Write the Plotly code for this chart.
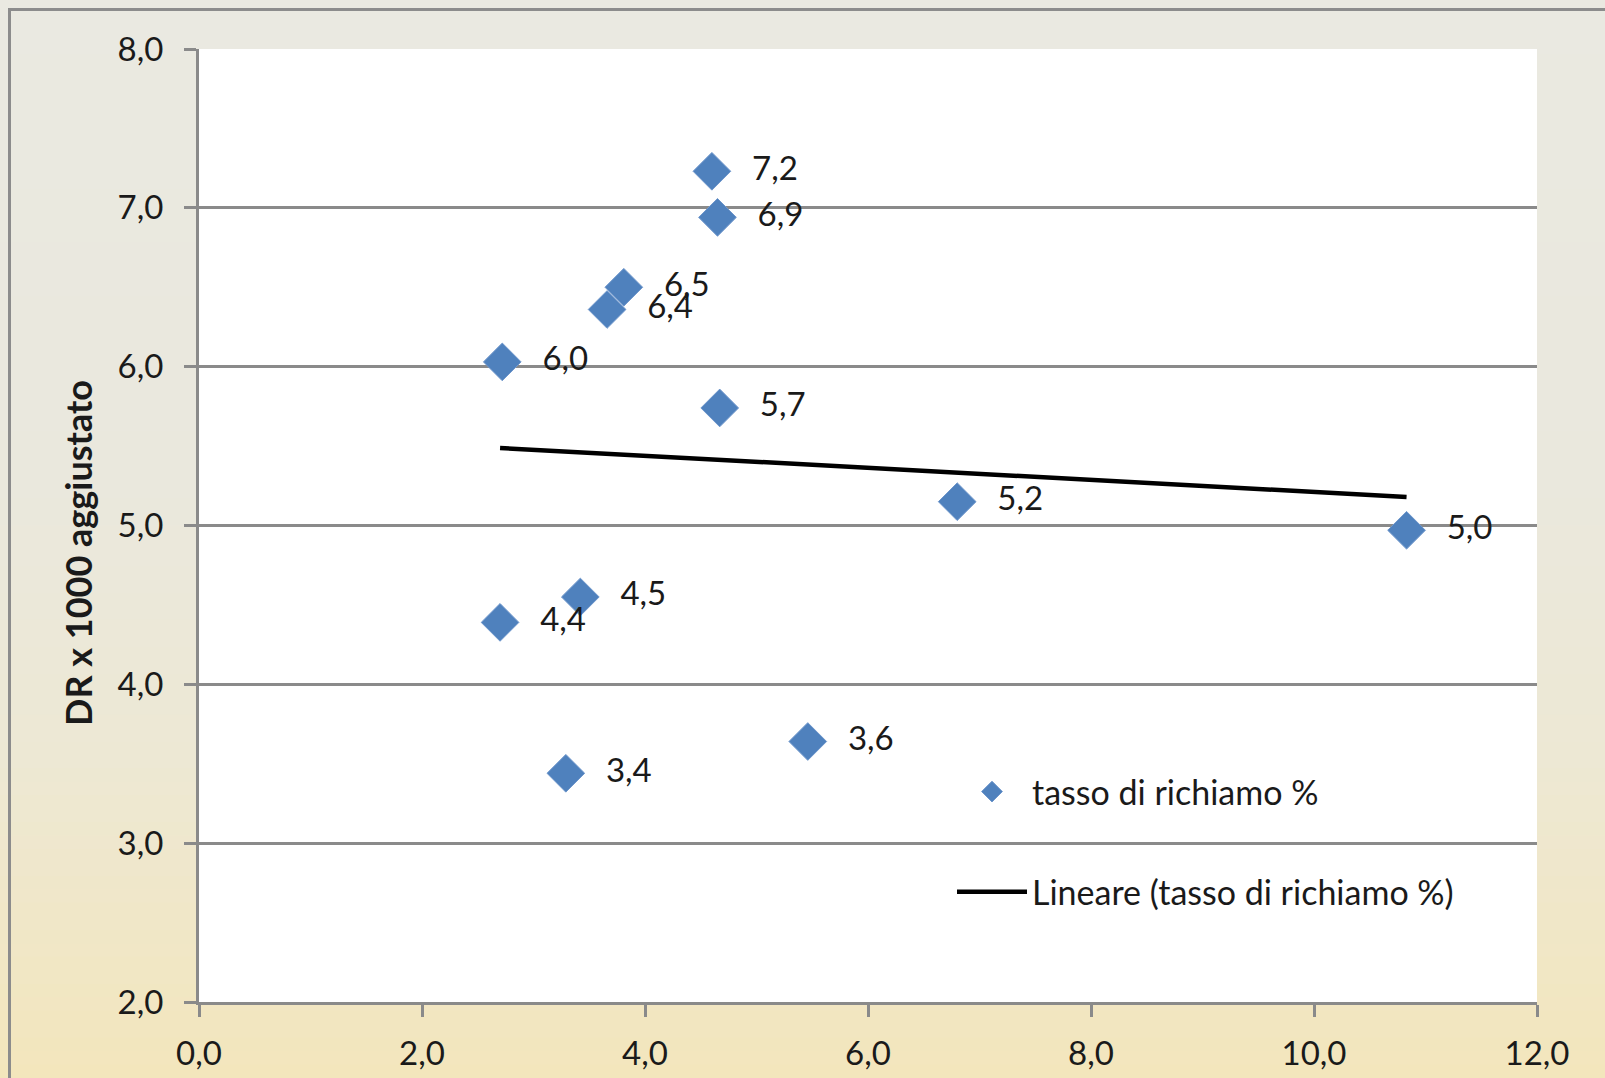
import numpy as np
import plotly.graph_objects as go

# Recall rate (%) vs adjusted detection rate (per 1000)
tasso_richiamo = [4.60, 4.65, 3.81, 3.66, 2.72, 4.67, 6.80, 10.83, 3.42, 2.70, 5.46, 3.29]
dr_aggiustato = [7.23, 6.94, 6.50, 6.36, 6.03, 5.74, 5.15, 4.97, 4.55, 4.39, 3.64, 3.44]

x_ticks = [0, 2, 4, 6, 8, 10, 12]
y_ticks = [2, 3, 4, 5, 6, 7, 8]

series_name = "tasso di richiamo %"
trend_name = "Lineare (tasso di richiamo %)"
y_title = "DR x 1000 aggiustato"

W, H = 1605, 1078
M_L, M_R, M_T, M_B = 199, 68, 49, 76
PW, PH = W - M_L - M_R, H - M_T - M_B


def px_x(p):
    return (p - M_L) / PW


def px_y(p):
    return (H - M_B - p) / PH


FONT = "Lato"
GRAY = "#8a8a8a"

# least-squares trend line over the data range
slope, intercept = np.polyfit(tasso_richiamo, dr_aggiustato, 1)
x_fit = np.array([min(tasso_richiamo), max(tasso_richiamo)])
y_fit = slope * x_fit + intercept

fig = go.Figure()

fig.add_trace(go.Scatter(
    x=tasso_richiamo, y=dr_aggiustato,
    mode="markers+text",
    name=series_name,
    legendgroup="a",
    marker=dict(symbol="diamond", size=29, color="#4f81bd",
                line=dict(width=1, color="#6f97cc")),
    texttemplate="\u00a0\u00a0\u2009%{y:.1f}",
    textposition="middle right",
    textfont=dict(family=FONT, size=33, color="#1a1a1a"),
    cliponaxis=False,
))

fig.add_trace(go.Scatter(
    x=x_fit, y=y_fit,
    mode="lines",
    name=trend_name,
    legendgroup="b",
    line=dict(color="black", width=4.5),
))

# background gradient (grey-beige at top to warm yellow at bottom)
stops = [(0.0, (234, 233, 225)), (0.45, (234, 232, 221)),
         (0.7, (237, 232, 212)), (1.0, (243, 230, 188))]
n_bands = 80
shapes = []
for i in range(n_bands):
    t = (i + 0.5) / n_bands
    for (t0, c0), (t1, c1) in zip(stops[:-1], stops[1:]):
        if t0 <= t <= t1:
            f = (t - t0) / (t1 - t0)
            c = tuple(int(round(a + (b - a) * f)) for a, b in zip(c0, c1))
            break
    top = H * i / n_bands
    bot = H * (i + 1) / n_bands + 1
    shapes.append(dict(type="rect", xref="paper", yref="paper", layer="below",
                       x0=px_x(0), x1=px_x(W), y0=px_y(bot), y1=px_y(top),
                       fillcolor="rgb(%d,%d,%d)" % c, line=dict(width=0)))

# white plotting area
shapes.append(dict(type="rect", xref="x domain", yref="y domain", layer="below",
                   x0=0, x1=1, y0=0, y1=1, fillcolor="white", line=dict(width=0)))

# outer chart frame
shapes.append(dict(type="rect", xref="paper", yref="paper", layer="below",
                   x0=px_x(9.5), x1=px_x(W + 40), y0=px_y(H + 40), y1=px_y(9.5),
                   fillcolor="rgba(0,0,0,0)", line=dict(color="#8c8c8c", width=3)))

# rotated value-axis title
annotations = [dict(
    text="<b>" + y_title + "</b>", textangle=-90, showarrow=False,
    xref="paper", yref="paper", x=px_x(78), y=px_y(553),
    xanchor="center", yanchor="middle",
    font=dict(family=FONT, size=36, color="#1a1a1a"),
)]

fig.update_layout(
    width=W, height=H,
    margin=dict(l=M_L, r=M_R, t=M_T, b=M_B, autoexpand=False),
    paper_bgcolor="#ebe9df",
    plot_bgcolor="rgba(0,0,0,0)",
    separators=",.",
    font=dict(family=FONT, size=33, color="#1a1a1a"),
    shapes=shapes,
    annotations=annotations,
    showlegend=True,
    legend=dict(
        x=px_x(952), y=px_y(763), xanchor="left", yanchor="top",
        bgcolor="rgba(0,0,0,0)",
        font=dict(family=FONT, size=34, color="#1a1a1a"),
        traceorder="grouped", tracegroupgap=53,
        itemwidth=70,
    ),
)

fig.update_xaxes(
    range=[0, 12], tickvals=x_ticks, tickformat=".1f",
    showgrid=False, zeroline=False, automargin=False,
    showline=True, linecolor=GRAY, linewidth=3,
    ticks="outside", ticklen=12, tickwidth=3, tickcolor=GRAY,
    tickfont=dict(family=FONT, size=33, color="#1a1a1a"),
    ticklabelstandoff=8,
)
fig.update_yaxes(
    range=[2, 8], tickvals=y_ticks, tickformat=".1f",
    showgrid=True, gridcolor=GRAY, gridwidth=3, zeroline=False, automargin=False,
    showline=True, linecolor=GRAY, linewidth=3,
    ticks="outside", ticklen=12, tickwidth=3, tickcolor=GRAY,
    tickfont=dict(family=FONT, size=33, color="#1a1a1a"),
    ticklabelstandoff=14,
)

fig.write_html("out.html")
